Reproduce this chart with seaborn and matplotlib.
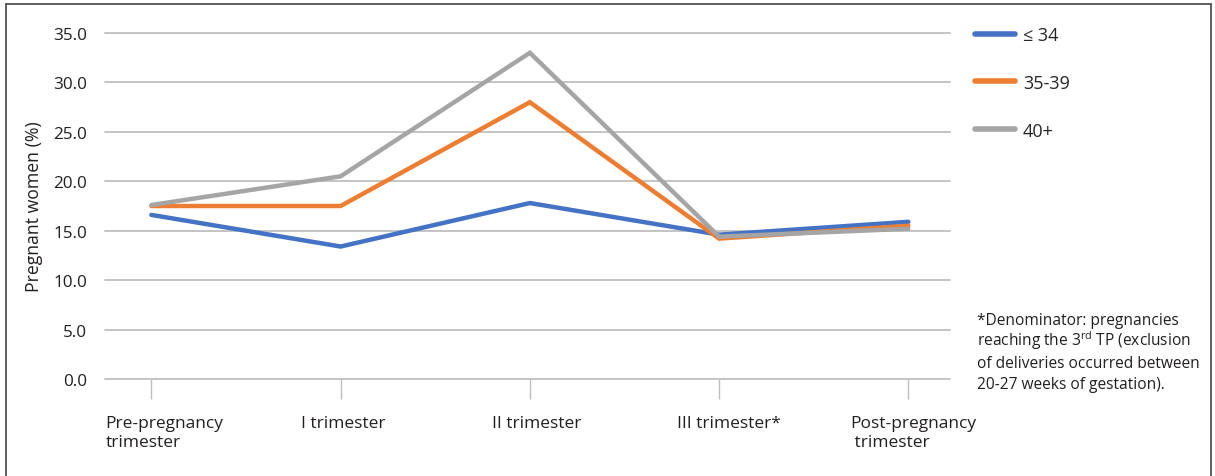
import matplotlib
matplotlib.use("Agg")
import matplotlib.pyplot as plt
import seaborn as sns
import pandas as pd
from matplotlib.lines import Line2D
from matplotlib.transforms import ScaledTranslation

periods = ["Pre-pregnancy\ntrimester", "I trimester", "II trimester",
           "III trimester*", "Post-pregnancy\n trimester"]
age_groups = ["≤ 34", "35-39", "40+"]
le_34 = [16.6, 13.4, 17.8, 14.6, 15.9]
from_35_to_39 = [17.5, 17.5, 28.0, 14.2, 15.5]
over_40 = [17.6, 20.5, 33.0, 14.4, 15.2]
colors = ["#4472C4", "#ED7D31", "#A5A5A5"]
note_lines = ["*Denominator: pregnancies",
              "reaching the 3$^{\\mathrm{rd}}$ TP (exclusion",
              "of deliveries occurred between",
              "20-27 weeks of gestation)."]

rows = []
for group, values in zip(age_groups, [le_34, from_35_to_39, over_40]):
    for i, v in enumerate(values):
        rows.append({"pos": i, "group": group, "value": v})
df = pd.DataFrame(rows)

sns.set_style("white")
plt.rcParams["font.family"] = ["Open Sans", "DejaVu Sans"]
plt.rcParams["mathtext.fontset"] = "custom"
plt.rcParams["mathtext.rm"] = "Open Sans"

fig = plt.figure(figsize=(12.15, 4.77), dpi=100)
ax = fig.add_axes([105 / 1215, 1 - 380 / 477, 845 / 1215, 346 / 477])

sns.lineplot(data=df, x="pos", y="value", hue="group", hue_order=age_groups,
             palette=colors, linewidth=3.2, ax=ax, sort=False,
             solid_capstyle="round", solid_joinstyle="miter")

ax.set_ylim(0, 35)
ax.set_xlim(-0.245, 4.22)
ax.set_yticks(range(0, 36, 5))
ax.set_yticklabels([f"{t:.1f}" for t in range(0, 36, 5)], fontsize=12.3, color="#231f20")
ax.set_xticks(range(len(periods)))
ax.set_xticklabels(periods, fontsize=12.5, color="#231f20", multialignment="left")
ax.tick_params(axis="y", left=False, length=0, pad=13)
ax.tick_params(axis="x", bottom=True, length=14.5, width=1, color="#bfbfbf",
               direction="out", pad=11.5)
# Excel sposta leggermente le etichette verso destra
shifts_px = [13, 3, 7, 10, 5]
for lab, dx in zip(ax.get_xticklabels(), shifts_px):
    lab.set_transform(lab.get_transform() + ScaledTranslation(dx / 100, 0, fig.dpi_scale_trans))
ax.grid(axis="y", color="#bfbfbf", linewidth=1.3)
for gl in ax.get_ygridlines():
    gl.set_clip_on(False)
for side in ["top", "right", "left", "bottom"]:
    ax.spines[side].set_visible(False)
ax.set_xlabel("")
ax.set_ylabel("Pregnant women (%)", fontsize=12.7, color="#231f20", labelpad=7)

# legenda a destra
ax.legend(loc="upper left", bbox_to_anchor=(975 / 1215, 1 - 27 / 477),
          bbox_transform=fig.transFigure, frameon=False, fontsize=13,
          handlelength=2.2, handletextpad=0.45, labelspacing=1.65, borderpad=0,
          borderaxespad=0)
for line in ax.get_legend().get_lines():
    line.set_linewidth(4)
    line.set_solid_capstyle("round")

# nota a piè di grafico, una riga alla volta
baselines = [325, 346.5, 368, 389]
for txt, yb in zip(note_lines, baselines):
    fig.text(977 / 1215, 1 - yb / 477, txt, fontsize=11.2, color="#231f20",
             va="baseline", ha="left")

# cornice
fig.add_artist(Line2D([6 / 1215, 6 / 1215], [0, 1 - 5 / 477], color="#444444", linewidth=1.2))
fig.add_artist(Line2D([6 / 1215, 1211 / 1215], [1 - 5 / 477, 1 - 5 / 477], color="#444444", linewidth=1.2))
fig.add_artist(Line2D([1211 / 1215, 1211 / 1215], [0, 1 - 5 / 477], color="#444444", linewidth=1.2))

fig.savefig("out.png", dpi=100)
